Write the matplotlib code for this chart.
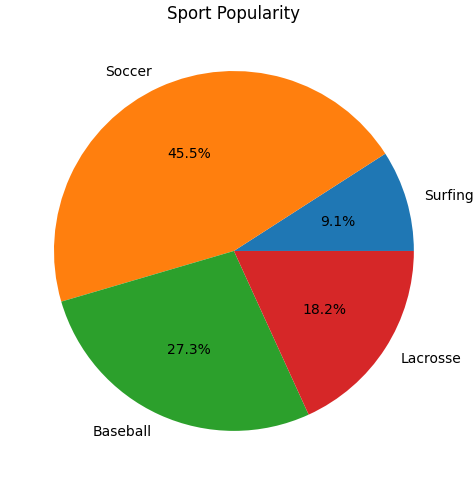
import matplotlib
matplotlib.use("Agg")
import matplotlib.pyplot as plt

labels = ["Surfing", "Soccer", "Baseball", "Lacrosse"]
values = [1, 5, 3, 2]

fig = plt.figure(figsize=(4.74, 4.85), dpi=100)
ax = fig.add_axes([0.019, 0.0165, 0.949, 0.928])
ax.pie(values, labels=labels, autopct="%1.1f%%")
ax.set_title("Sport Popularity")
ax.set_aspect("equal")
fig.savefig("out.png", dpi=100)
